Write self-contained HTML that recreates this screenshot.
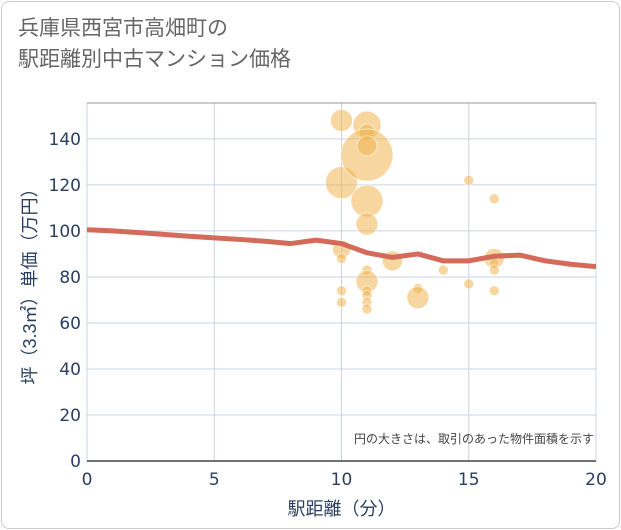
<!DOCTYPE html>
<html><head><meta charset="utf-8"><style>
body{margin:0;background:#fff;font-family:"Liberation Sans","Noto Sans CJK JP",sans-serif;}
#frame{position:absolute;left:1px;top:1px;width:617px;height:526px;border:1px solid #ccc;border-radius:8px;}
#title{position:absolute;left:18px;top:13px;font-size:21px;line-height:31px;color:#666;}
</style></head><body>
<div id="frame"></div>
<div id="title">兵庫県西宮市高畑町の<br>駅距離別中古マンション価格</div>
<svg id="chart" width="621" height="530" style="position:absolute;left:0;top:0"></svg>
<script>
const xTicks=[0,5,10,15,20];
const yTicks=[0,20,40,60,80,100,120,140];
const bubbleX=[10,10,10,10,10,10,11,11,11,11,11,11,11,11,11,11,11,11,12,13,13,14,15,15,16,16,16,16,16];
const bubbleY=[148,121,92,88,74,69,146,143,133,137,113,103,83,78,74,72,69,66,87,75,71,83,122,77,114,88,86,83,74];
const bubbleR=[11,16,9,5,5,5,14,8,26,10,16,11,5,11,5,5,5,5,10,5,11,5,5,5,5,10,5,5,5];
const lineX=[0,1,2,3,4,5,6,7,8,9,10,11,12,13,14,15,16,17,18,19,20];
const lineY=[100.5,100,99.3,98.5,97.7,97,96.3,95.5,94.5,96,94.5,90.5,88.5,90,87,87,89,89.5,87,85.5,84.5];
const L=87,R=596,T=103,B=461;
const sx=v=>L+(R-L)*v/20, sy=v=>B-(B-T)*v/155.6;
const svg=document.getElementById('chart');const NS='http://www.w3.org/2000/svg';
function mk(t,a,p){const e=document.createElementNS(NS,t);for(const k in a)e.setAttribute(k,a[k]);(p||svg).appendChild(e);return e;}
const TF='"DejaVu Sans","Liberation Sans",sans-serif';
xTicks.forEach(v=>{const l=mk('line',{x1:sx(v),x2:sx(v),y1:T,y2:B,stroke:'#c8d4e3','stroke-width':1});

const t=mk('text',{x:sx(v),y:B+24,'text-anchor':'middle','font-size':17,fill:'#2a3f5f','font-family':TF});t.textContent=v;
});
yTicks.forEach(v=>{const l=mk('line',{x1:L,x2:R,y1:sy(v),y2:sy(v),stroke:'#c8d4e3','stroke-width':1});

const t=mk('text',{x:L-6,y:sy(v)+6,'text-anchor':'end','font-size':17,fill:'#2a3f5f','font-family':TF});t.textContent=v;
});
const ax=mk('line',{x1:L,x2:R,y1:B,y2:B,stroke:'#444','stroke-width':1.5});

const tp=mk('line',{x1:L,x2:R,y1:T,y2:T,stroke:'#999','stroke-width':1});

bubbleX.forEach((x,i)=>{const c=mk('circle',{cx:sx(x),cy:sy(bubbleY[i]),r:bubbleR[i],fill:'rgba(240,180,80,0.55)',stroke:'rgba(255,255,255,0.6)','stroke-width':1});
});
const p=mk('polyline',{points:lineX.map((x,i)=>sx(x)+','+sy(lineY[i])).join(' '),fill:'none',stroke:'#d46a5a','stroke-width':5,'stroke-linejoin':'round'});

const xt=mk('text',{x:(L+R)/2,y:515,'text-anchor':'middle','font-size':18,fill:'#2a3f5f'});xt.textContent='駅距離（分）';

const yt=mk('text',{x:0,y:0,'text-anchor':'middle','font-size':18,fill:'#2a3f5f',transform:'translate(36,'+((T+B)/2)+') rotate(-90)'});yt.textContent='坪（3.3㎡）単価（万円）';

const n=mk('text',{x:594,y:443,'text-anchor':'end','font-size':12,fill:'#444'});n.textContent='円の大きさは、取引のあった物件面積を示す';

</script>
</body></html>
